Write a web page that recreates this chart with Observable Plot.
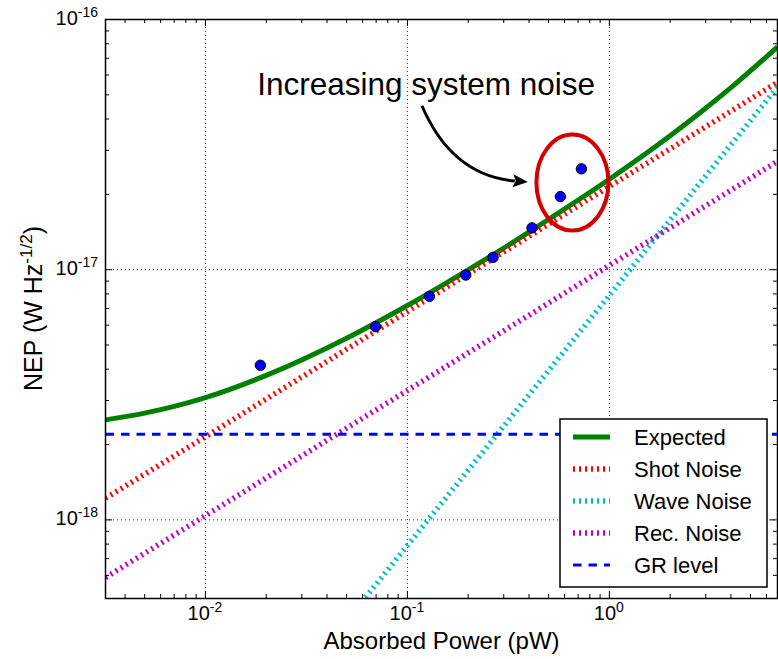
<!DOCTYPE html>
<html>
<head>
<meta charset="utf-8">
<script src="https://cdn.jsdelivr.net/npm/d3@7"></script>
<script src="https://cdn.jsdelivr.net/npm/@observablehq/plot@0.6"></script>
<style>
  html, body { margin: 0; padding: 0; background: #fff; }
  #chart svg { display: block; }
</style>
</head>
<body>
<div id="chart"></div>
<script>
// Measured NEP (absorbed power in pW, NEP in W Hz^-1/2)
const measuredPower = [0.0187, 0.0695, 0.1285, 0.1945, 0.2655, 0.414, 0.572, 0.727];
const measuredNEP   = [4.15e-18, 5.92e-18, 7.82e-18, 9.52e-18, 1.12e-17, 1.47e-17, 1.96e-17, 2.53e-17];

// Expected total NEP
const expectedPower = [0.0032, 0.005, 0.01, 0.02, 0.05, 0.1, 0.2, 0.3, 0.5, 1, 2, 3, 4, 6.8];
const expectedNEP   = [2.51e-18, 2.67e-18, 3.08e-18, 3.78e-18, 5.32e-18, 7.19e-18, 9.99e-18,
                       1.22e-17, 1.59e-17, 2.30e-17, 3.43e-17, 4.42e-17, 5.34e-17, 7.77e-17];

// Individual noise contributions
const shotPower = [0.0032, 0.01, 0.1, 1, 6.8];
const shotNEP   = [1.22e-18, 2.15e-18, 6.80e-18, 2.15e-17, 5.61e-17];

const wavePower = [0.05, 0.1, 1, 6.8];
const waveNEP   = [3.95e-19, 7.9e-19, 7.9e-18, 5.37e-17];

const recPower = [0.0032, 0.01, 0.1, 1, 6.8];
const recNEP   = [5.88e-19, 1.04e-18, 3.29e-18, 1.04e-17, 2.71e-17];

const grPower = [0.0032, 6.8];
const grNEP   = [2.2e-18, 2.2e-18];

// Axis ticks and labels
const xMajor = [0.01, 0.1, 1];
const xMajorExp = ["-2", "-1", "0"];
const xMinor = [0.004, 0.005, 0.006, 0.007, 0.008, 0.009,
                0.02, 0.03, 0.04, 0.05, 0.06, 0.07, 0.08, 0.09,
                0.2, 0.3, 0.4, 0.5, 0.6, 0.7, 0.8, 0.9,
                2, 3, 4, 5, 6];
const yMajor = [1e-18, 1e-17, 1e-16];
const yMajorExp = ["-18", "-17", "-16"];
const yMinor = [6e-19, 7e-19, 8e-19, 9e-19,
                2e-18, 3e-18, 4e-18, 5e-18, 6e-18, 7e-18, 8e-18, 9e-18,
                2e-17, 3e-17, 4e-17, 5e-17, 6e-17, 7e-17, 8e-17, 9e-17];
const xDomain = [0.0032, 6.8];
const yDomain = [4.85e-19, 1e-16];

// Text
const xTitle = "Absorbed Power (pW)";
const yTitle = ["NEP (W Hz", "-1/2", ")"];
const legendLabels = ["Expected", "Shot Noise", "Wave Noise", "Rec. Noise", "GR level"];
const annotationText = "Increasing system noise";
const annotationAt = [0.01805, 5.0e-17];     // text start, on the baseline
const arrowFrom = [0.1187, 4.5e-17];
const arrowTo = [0.397, 2.23e-17];
const highlightCenter = [0.66, 2.22e-17];    // ellipse round the last two points

// Styles
const FONT = "'Liberation Sans', Arial, Helvetica, sans-serif";
const styles = [
  {stroke: "#008000", width: 5, dash: null},
  {stroke: "#ff0000", width: 5.5, dash: "2,4"},
  {stroke: "#00bfbf", width: 5.5, dash: "2,4"},
  {stroke: "#bf00bf", width: 5.5, dash: "2,4"},
  {stroke: "#0000ff", width: 3, dash: "8.5,7"}
];

const W = 778, H = 659;
const M = {top: 19, right: 1, bottom: 61, left: 105};
const plotH = H - M.top - M.bottom;
const plotW = W - M.left - M.right;
const majorLen = 7, minorLen = 4;

const table = (xs, ys) => xs.map((p, i) => ({p, v: ys[i]}));

function seriesLine(xs, ys, s, extra = {}) {
  return Plot.line(table(xs, ys), {
    x: "p", y: "v", stroke: s.stroke, strokeWidth: s.width,
    strokeDasharray: s.dash ?? undefined, strokeLinecap: "butt", strokeLinejoin: "round",
    clip: true, ...extra
  });
}

function inwardTicks(len) {
  const xs = len === majorLen ? xMajor : xMinor;
  const ys = len === majorLen ? yMajor : yMinor;
  return [
    Plot.tickX(xs, {x: d => d, insetTop: plotH - len, stroke: "black", strokeWidth: 1}),
    Plot.tickX(xs, {x: d => d, insetBottom: plotH - len, stroke: "black", strokeWidth: 1}),
    Plot.tickY(ys, {y: d => d, insetRight: plotW - len, stroke: "black", strokeWidth: 1}),
    Plot.tickY(ys, {y: d => d, insetLeft: plotW - len, stroke: "black", strokeWidth: 1})
  ];
}

// Tick labels of the form 10^n
function tickLabels(index, scales, values, dims) {
  const g = d3.create("svg:g").attr("font-family", FONT).attr("fill", "black");
  const xb = dims.height - dims.marginBottom + 22;
  xMajor.forEach((v, i) => {
    const t = g.append("text").attr("x", scales.x(v)).attr("y", xb)
      .attr("text-anchor", "middle").attr("font-size", 20);
    t.append("tspan").text("10");
    t.append("tspan").attr("font-size", 14).attr("dy", -8).text(xMajorExp[i]);
  });
  yMajor.forEach((v, i) => {
    const t = g.append("text").attr("x", dims.marginLeft - 7).attr("y", scales.y(v) + 6)
      .attr("text-anchor", "end").attr("font-size", 20);
    t.append("tspan").text("10");
    t.append("tspan").attr("font-size", 14).attr("dy", -8).text(yMajorExp[i]);
  });
  return g.node();
}

// Rotated y-axis title with superscript
function yAxisTitle(index, scales, values, dims) {
  const cy = (dims.marginTop + dims.height - dims.marginBottom) / 2;
  const g = d3.create("svg:g").attr("transform", `translate(42,${cy}) rotate(-90)`);
  const t = g.append("text").attr("text-anchor", "middle").attr("font-family", FONT)
    .attr("font-size", 25).attr("fill", "black");
  t.append("tspan").text(yTitle[0]);
  t.append("tspan").attr("font-size", 17).attr("dy", -10).text(yTitle[1]);
  t.append("tspan").attr("dy", 10).text(yTitle[2]);
  return g.node();
}

// Ellipse and curved arrow
function annotationMarks(index, scales) {
  const g = d3.create("svg:g");
  g.append("ellipse")
    .attr("cx", scales.x(highlightCenter[0])).attr("cy", scales.y(highlightCenter[1]))
    .attr("rx", 36).attr("ry", 48)
    .attr("fill", "none").attr("stroke", "#d40000").attr("stroke-width", 4);
  const sx = scales.x(arrowFrom[0]), sy = scales.y(arrowFrom[1]);
  const ex = scales.x(arrowTo[0]), ey = scales.y(arrowTo[1]);
  const dx = ex - sx, dy = ey - sy, rad = -0.3;
  const cx = (sx + ex) / 2 + rad * dy, cy = (sy + ey) / 2 - rad * dx;
  let ux = ex - cx, uy = ey - cy;
  const n = Math.hypot(ux, uy); ux /= n; uy /= n;
  const hl = 15, hw = 6.5;
  const bx = ex - ux * hl, by = ey - uy * hl;
  g.append("path")
    .attr("d", `M${sx},${sy}Q${cx},${cy} ${bx + ux * 2},${by + uy * 2}`)
    .attr("fill", "none").attr("stroke", "black").attr("stroke-width", 3);
  g.append("path")
    .attr("d", `M${ex},${ey}L${bx - uy * hw},${by + ux * hw}L${bx + ux * 3},${by + uy * 3}L${bx + uy * hw},${by - ux * hw}Z`)
    .attr("fill", "black");
  return g.node();
}

// Legend box with line samples
function legend(index, scales, values, dims) {
  const bw = 207, bh = 168;
  const x0 = dims.width - dims.marginRight - 10 - bw;
  const y0 = dims.height - dims.marginBottom - 11 - bh;
  const g = d3.create("svg:g").attr("font-family", FONT).attr("text-anchor", "start");
  g.append("rect").attr("x", x0).attr("y", y0).attr("width", bw).attr("height", bh)
    .attr("fill", "white").attr("stroke", "black").attr("stroke-width", 1.5);
  legendLabels.forEach((label, i) => {
    const s = styles[i];
    const y = y0 + 18 + i * 32;
    g.append("line").attr("x1", x0 + 13).attr("x2", x0 + 50).attr("y1", y).attr("y2", y)
      .attr("stroke", s.stroke).attr("stroke-width", s.width)
      .attr("stroke-dasharray", s.dash).attr("stroke-linecap", "butt");
    g.append("text").attr("x", x0 + 74).attr("y", y).attr("dy", "0.36em")
      .attr("text-anchor", "start").attr("font-size", 22).attr("fill", "black").text(label);
  });
  return g.node();
}

const chart = Plot.plot({
  width: W,
  height: H,
  marginTop: M.top,
  marginRight: M.right,
  marginBottom: M.bottom,
  marginLeft: M.left,
  style: {background: "white", color: "black", fontFamily: FONT, fontSize: "20px"},
  x: {type: "log", domain: xDomain, axis: null},
  y: {type: "log", domain: yDomain, axis: null},
  marks: [
    // dotted grid at decades
    Plot.ruleX(xMajor, {x: d => d, stroke: "black", strokeWidth: 1, strokeDasharray: "1,3", strokeOpacity: 0.8}),
    Plot.ruleY(yMajor.slice(0, 2), {y: d => d, stroke: "black", strokeWidth: 1, strokeDasharray: "1,3", strokeOpacity: 0.8}),
    seriesLine(expectedPower, expectedNEP, styles[0], {curve: "monotone-x"}),
    seriesLine(shotPower, shotNEP, styles[1]),
    seriesLine(wavePower, waveNEP, styles[2]),
    seriesLine(recPower, recNEP, styles[3]),
    seriesLine(grPower, grNEP, styles[4]),
    Plot.dot(table(measuredPower, measuredNEP), {x: "p", y: "v", r: 5.2, fill: "#0000ff", stroke: "black", strokeWidth: 1}),
    annotationMarks,
    Plot.text([annotationText], {x: () => annotationAt[0], y: () => annotationAt[1], text: d => d,
      textAnchor: "start", lineAnchor: "bottom", fontSize: 31.5, fill: "black"}),
    legend,
    ...inwardTicks(minorLen),
    ...inwardTicks(majorLen),
    Plot.frame({stroke: "black", strokeWidth: 1.5}),
    tickLabels,
    Plot.text([xTitle], {text: d => d, frameAnchor: "bottom", dy: 50, lineAnchor: "bottom", fontSize: 24, fill: "black"}),
    yAxisTitle
  ]
});

document.getElementById("chart").append(chart);
</script>
</body>
</html>
